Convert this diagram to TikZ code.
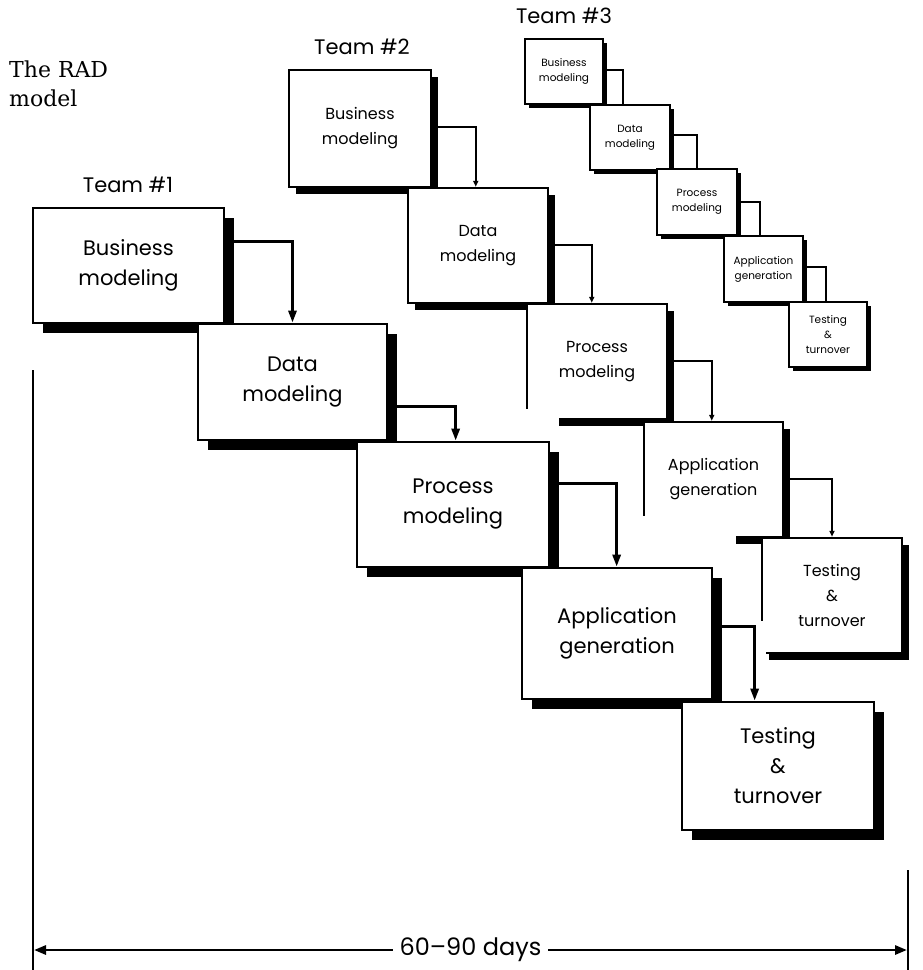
\documentclass[tikz,border=0pt]{standalone}
\usepackage{fontspec}
\setmainfont{Poppins}
\newfontfamily\slabfont{DejaVu Serif}
\usetikzlibrary{arrows.meta,shadows}
\begin{document}
\begin{tikzpicture}[x=1pt,y=-1pt,
  boxone/.style={draw=black, line width=2.7pt, fill=white, align=center, inner sep=0pt,
    font=\fontsize{21}{30}\selectfont,
    drop shadow={shadow xshift=10pt, shadow yshift=-10pt, opacity=1, fill=black}},
  boxtwo/.style={draw=black, line width=2.5pt, fill=white, align=center, inner sep=0pt,
    font=\fontsize{16}{25}\selectfont,
    drop shadow={shadow xshift=7pt, shadow yshift=-7pt, opacity=1, fill=black}},
  boxthree/.style={draw=black, line width=1.6pt, fill=white, align=center, inner sep=0pt,
    font=\fontsize{10.5}{15}\selectfont,
    drop shadow={shadow xshift=3.5pt, shadow yshift=-3.5pt, opacity=1, fill=black}},
  connone/.style={draw=black, line width=2.8pt, -{Triangle[width=8pt,length=12pt]}},
  conntwo/.style={draw=black, line width=2.5pt, -{Triangle[width=5pt,length=6pt]}},
  connthree/.style={draw=black, line width=1.7pt},
  teamlabel/.style={font=\fontsize{21}{25}\selectfont, inner sep=0pt},
  vline/.style={draw=black, line width=2.2pt},
  dimline/.style={draw=black, line width=2.8pt, {Triangle[width=9pt,length=12pt]}-{Triangle[width=9pt,length=12pt]}},
]
\useasboundingbox (0,0) rectangle (922,970);
\fill[white] (0,0) rectangle (922,970);

% titles
\node[font=\slabfont\fontsize{22}{29}\selectfont, align=left, anchor=north west, inner sep=0pt] (title) at (9,61) {The RAD\\model};
\node[teamlabel] (team1) at (128,185) {Team \#1};
\node[teamlabel] (team2) at (362,47) {Team \#2};
\node[teamlabel] (team3) at (564,16) {Team \#3};

% Team 3
\node[boxthree, minimum width=78, minimum height=65] (b3) at (564,71.5) {Business\\modeling};
\node[boxthree, minimum width=80, minimum height=65] (d3) at (630,137.5) {Data\\modeling};
\node[boxthree, minimum width=80, minimum height=66] (p3) at (697,202) {Process\\modeling};
\node[boxthree, minimum width=79, minimum height=66] (a3) at (763.5,269) {Application\\generation};
\node[boxthree, minimum width=78, minimum height=65] (t3) at (828,334.5) {Testing\\\&\\turnover};

% Team 2
\node[boxtwo, minimum width=142, minimum height=117] (b2) at (360,128.5) {Business\\modeling};
\node[boxtwo, minimum width=140, minimum height=115] (d2) at (478,245.5) {Data\\modeling};
\node[boxtwo, minimum width=140, minimum height=115] (p2) at (597,361.5) {Process\\modeling};
\node[boxtwo, minimum width=139, minimum height=115] (a2) at (713.5,479.5) {Application\\generation};
\node[boxtwo, minimum width=140, minimum height=115] (t2) at (832,595.5) {Testing\\\&\\turnover};
% faded corners of the team 2 boxes
\fill[white] (520,409) rectangle (559,432);
\fill[white] (638,516) rectangle (736,549);
\fill[white] (758,621) rectangle (766,664);

% Team 1
\node[boxone, minimum width=191, minimum height=115] (b1) at (128.5,265.5) {Business\\modeling};
\node[boxone, minimum width=189, minimum height=116] (d1) at (292.5,382) {Data\\modeling};
\node[boxone, minimum width=192, minimum height=125] (p1) at (453,504.5) {Process\\modeling};
\node[boxone, minimum width=190, minimum height=131] (a1) at (617,633.5) {Application\\generation};
\node[boxone, minimum width=192, minimum height=128] (t1) at (778,766) {Testing\\\&\\turnover};

% connectors team 3
\draw[connthree] ([shift={(0,32)}]b3.north east) -| ([shift={(34,0)}]d3.north west);
\draw[connthree] ([shift={(0,31)}]d3.north east) -| (p3.north);
\draw[connthree] ([shift={(0,34)}]p3.north east) -| ([shift={(37,0)}]a3.north west);
\draw[connthree] ([shift={(0,32)}]a3.north east) -| ([shift={(38,0)}]t3.north west);

% connectors team 2
\draw[conntwo] ([shift={(0,58)}]b2.north east) -| ([shift={(69,0)}]d2.north west);
\draw[conntwo] ([shift={(0,58)}]d2.north east) -| ([shift={(66,0)}]p2.north west);
\draw[conntwo] ([shift={(0,58)}]p2.north east) -| ([shift={(69,0)}]a2.north west);
\draw[conntwo] ([shift={(0,58)}]a2.north east) -| (t2.north);

% connectors team 1
\draw[connone] ([shift={(0,35)}]b1.north east) -| (d1.north);
\draw[connone] ([shift={(0,84)}]d1.north east) -| ([shift={(100,0)}]p1.north west);
\draw[connone] ([shift={(0,43)}]p1.north east) -| ([shift={(96,0)}]a1.north west);
\draw[connone] ([shift={(0,60)}]a1.north east) -| ([shift={(74,0)}]t1.north west);

% time span
\coordinate (lt) at (33,370);
\coordinate (lb) at (33,970);
\coordinate (rt) at (908,870);
\coordinate (rb) at (908,970);
\coordinate (la) at (34,950);
\coordinate (ra) at (907,950);
\draw[vline] (lt) -- (lb);
\draw[vline] (rt) -- (rb);
\draw[dimline] (la) -- node[fill=white, inner xsep=7pt, inner ysep=2pt, font=\fontsize{24}{28}\selectfont] (days) {60–90 days} (ra);
\end{tikzpicture}
\end{document}
